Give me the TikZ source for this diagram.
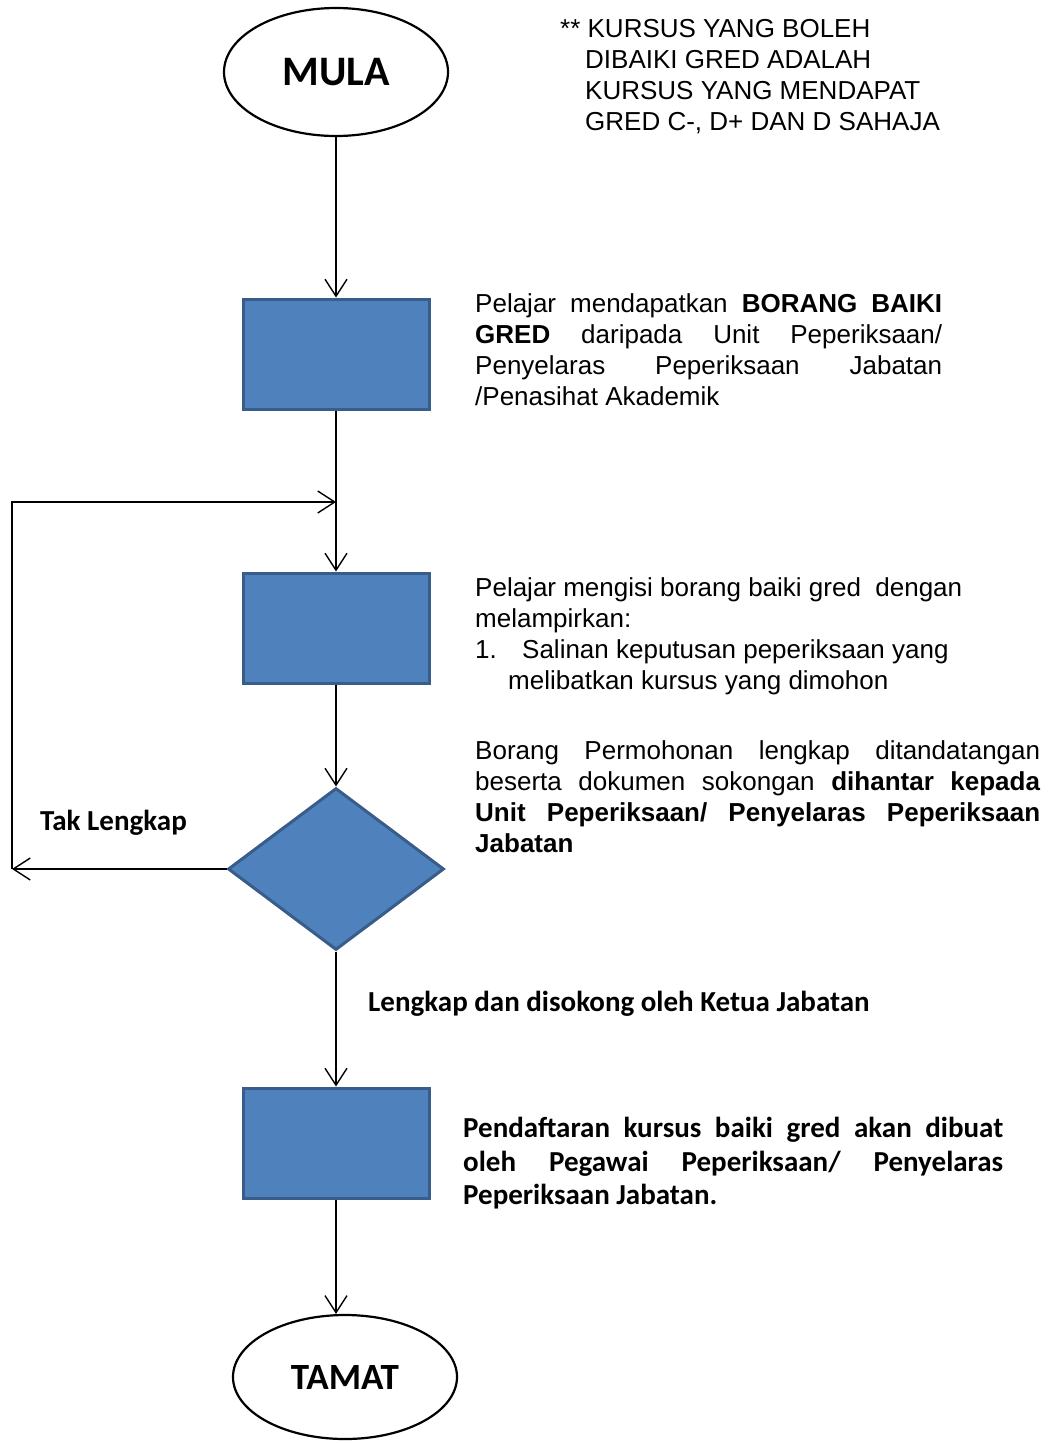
\documentclass[tikz,border=0pt]{standalone}
\usepackage{fontspec}
\setmainfont{Liberation Sans}
\newfontfamily\calibri{Carlito}
\usetikzlibrary{shapes.geometric, arrows.meta}
\definecolor{boxfill}{HTML}{4F81BD}
\definecolor{boxline}{HTML}{385D8A}

\begin{document}
\begin{tikzpicture}[
    x=1pt, y=-1pt,
    terminal/.style={draw, ellipse, line width=2.2pt, minimum width=224pt, minimum height=128pt, inner sep=0pt, font=\calibri\bfseries\fontsize{42}{50}\selectfont},
    stepbox/.style={draw=boxline, fill=boxfill, line width=3pt, minimum width=186pt, minimum height=110pt},
    check/.style={diamond, draw=boxline, fill=boxfill, line width=3pt, minimum width=216pt, minimum height=162pt, inner sep=0pt},
    note/.style={anchor=north west, inner sep=0pt, font=\fontsize{26}{31}\selectfont},
    branch/.style={anchor=base west, inner sep=0pt, font=\calibri\bfseries\fontsize{29}{34}\selectfont},
    line/.style={-{Straight Barb[length=17pt, width=22pt]}, line width=1.4pt}
]
    \useasboundingbox (0,0) rectangle (1050,1443);

    % flow column
    \node[terminal] (mula) at (336,72) {MULA};
    \node[stepbox] (borang) at (336,354) {};
    \node[stepbox] (isi) at (336,628) {};
    \node[check] (semak) at (336,869) {};
    \node[stepbox] (daftar) at (336,1143) {};
    \node[terminal, minimum height=124pt, font=\calibri\bfseries\fontsize{37}{44}\selectfont] (tamat) at (345,1377) {TAMAT};

    \coordinate (merge) at (336,502);
    \coordinate (back) at (12,869);

    % texts
    \node[note, align=left] (catatan) at (560,19) {** KURSUS YANG BOLEH\\
        \hspace*{25pt}DIBAIKI GRED ADALAH\\
        \hspace*{25pt}KURSUS YANG MENDAPAT\\
        \hspace*{25pt}GRED C-, D+ DAN D SAHAJA};
    \node[note, text width=467pt, align=justify] (t1) at (475,293) {Pelajar mendapatkan \textbf{BORANG BAIKI}\linebreak
        \textbf{GRED} daripada Unit Peperiksaan/\linebreak
        Penyelaras Peperiksaan Jabatan\linebreak
        /Penasihat Akademik};
    \node[note, align=left] (t2) at (475,577) {Pelajar mengisi borang baiki gred\ \ dengan\\
        melampirkan:\\
        \makebox[47pt][l]{1.}Salinan keputusan peperiksaan yang\\
        \hspace*{33pt}melibatkan kursus yang dimohon};
    \node[note, text width=565pt, align=justify] (t3) at (475,740) {Borang Permohonan lengkap ditandatangan\linebreak
        beserta dokumen sokongan \textbf{dihantar kepada}\linebreak
        \textbf{Unit Peperiksaan/ Penyelaras Peperiksaan}\linebreak
        \textbf{Jabatan}};
    \node[note, text width=540pt, align=justify, font=\calibri\bfseries\fontsize{29}{33.5}\selectfont] (t4) at (463,1117) {Pendaftaran kursus baiki gred akan dibuat\linebreak
        oleh Pegawai Peperiksaan/ Penyelaras\linebreak
        Peperiksaan Jabatan.};
    \node[branch] (tak) at (40,830) {Tak Lengkap};
    \node[branch] (lengkap) at (368,1011) {Lengkap dan disokong oleh Ketua Jabatan};

    % connectors
    \draw[line] (mula) -- (borang);
    \draw[line] (borang) -- (isi);
    \draw[line] (isi) -- (semak);
    \draw[line] (semak) -- (daftar);
    \draw[line] (daftar.south) -- (daftar.south |- tamat.north);
    \draw[line] (semak.west) -- (back);
    \draw[line] (back) |- (merge);
\end{tikzpicture}
\end{document}
